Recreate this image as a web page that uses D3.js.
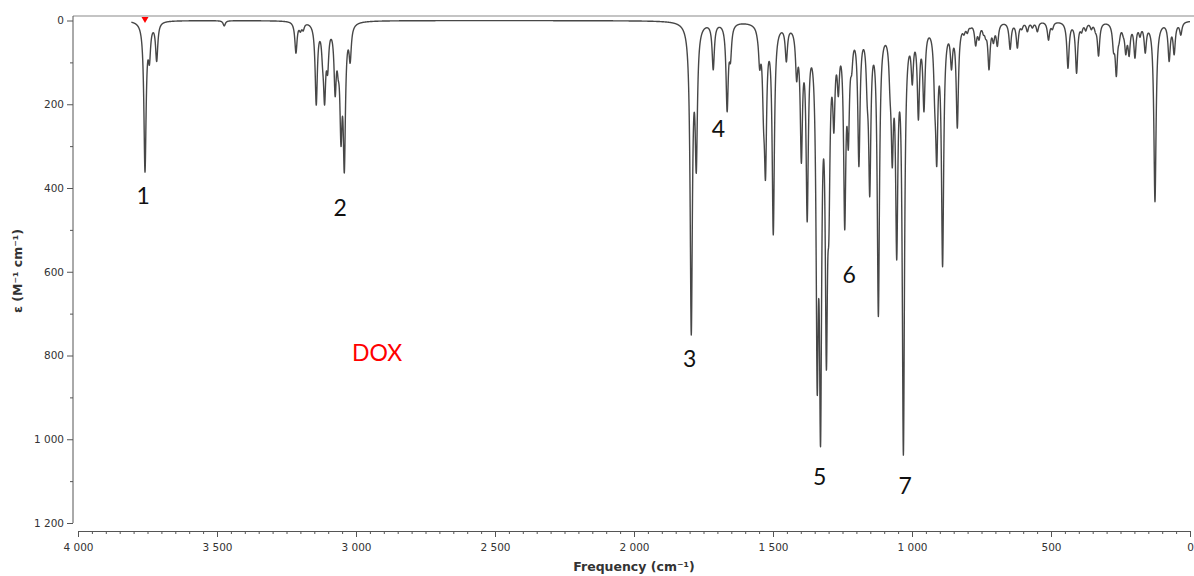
<!DOCTYPE html>
<html><head><meta charset="utf-8">
<script src="https://cdn.jsdelivr.net/npm/d3@7"></script>
<style>body{margin:0;background:#fff}</style>
</head><body><svg id="c" width="1194" height="576"></svg>
<script>
// ---- data: [frequency cm-1, epsilon M-1 cm-1] ----
const peaksOH = [[3759,362],[3743,106],[3717,98],[3474,13]];
const peaksCH = [[3216,78],[3200,28],[3190,25],[3143,202],[3120,118],[3113,202],[3102,130],
  [3075,182],[3064,142],[3054,301],[3042,364],[3021,102]];
const peaksCO = [[1794,751],[1776,365],[1715,118],[1665,218],[1653,102],[1556,47],[1548,118],
  [1534,261],[1527,381],[1499,512]];
const peaksFinger = [[1452,99],[1415,146],[1398,341],[1377,481],[1341,894],[1329,1018],[1308,835],
  [1299,524],[1281,269],[1265,182],[1242,500],[1229,309],[1217,130],[1191,349],[1161,206],[1152,421],
  [1121,707],[1079,190],[1071,352],[1055,572],[1031,1038],[999,154],[977,238],[957,218],
  [918,221],[911,349],[890,588],[858,118],[837,257]];
const peaksLow = [[813,35],[801,31],[789,19],[771,61],[759,47],[743,35],[735,45],[723,118],[707,55],
  [693,62],[647,69],[621,66],[605,22],[585,27],[567,18],[549,27],[509,47],[495,22],[439,114],[408,126],
  [390,30],[375,25],[355,22],[340,30],[329,85],[275,78],[265,134],[255,55],[240,40],[231,82],
  [219,86],[198,90],[180,40],[161,78],[126,433],[75,98],[57,82],[33,35]];
const yTicks = [0,200,400,600,800,1000,1200];
const yMinor = [100,300,500,700,900,1100];
const xTicks = [4000,3500,3000,2500,2000,1500,1000,500,0];
const peakLabels = ["1","2","3","4","5","6","7"];
const labelFreq = [3766,3057,1800,1696,1332,1226,1025];
const labelEps  = [417,445,806,257,1088,605,1109];
const sampleName = "DOX", sampleFreq = 2924, sampleEps = 792;
const markerFreq = 3759;

// ---- chart ----
const svg = d3.select("#c");
const x = d3.scaleLinear().domain([4000,0]).range([78,1190]);
const y = d3.scaleLinear().domain([0,1200]).range([20.5,523]);
const loc = d3.formatLocale({decimal:".",thousands:" ",grouping:[3],currency:["",""]});
const fmt = loc.format(",");

// top frame line and y axis line
svg.append("line").attr("x1",73).attr("x2",1194).attr("y1",16).attr("y2",16)
  .attr("stroke","#b0b0b0").attr("stroke-width",1.5);

const yAx = svg.append("g").attr("transform","translate(73,0)")
  .call(d3.axisLeft(y).tickValues(yTicks).tickSize(6).tickSizeOuter(0).tickFormat(fmt));
const yAxm = svg.append("g").attr("transform","translate(73,0)")
  .call(d3.axisLeft(y).tickValues(yMinor).tickSize(3).tickSizeOuter(0).tickFormat(""));
yAxm.select(".domain").remove();
yAx.select(".domain").attr("d","M0,16V523");

const xAx = svg.append("g").attr("transform","translate(0,531)")
  .call(d3.axisBottom(x).tickValues(xTicks).tickSize(6).tickSizeOuter(0).tickFormat(fmt));
const xAxm = svg.append("g").attr("transform","translate(0,531)")
  .call(d3.axisBottom(x).tickValues(d3.range(0,4001,50)).tickSize(3).tickSizeOuter(0).tickFormat(""));
xAxm.select(".domain").remove();

svg.selectAll(".tick line, .domain").attr("stroke","#555").attr("stroke-width",1);
svg.selectAll(".tick text").attr("font-family","DejaVu Sans").attr("font-size","10.5px").attr("fill","#333");
yAx.selectAll(".tick text").attr("x",-9);
xAx.selectAll(".tick text").attr("y",13);

svg.append("text").attr("x",634).attr("y",571).attr("text-anchor","middle")
  .attr("font-family","DejaVu Sans").attr("font-weight","bold").attr("font-size","12.5px").attr("fill","#333")
  .text("Frequency (cm⁻¹)");
svg.append("text").attr("transform","translate(22,271) rotate(-90)").attr("text-anchor","middle")
  .attr("font-family","DejaVu Sans").attr("font-weight","bold").attr("font-size","12.5px").attr("fill","#333")
  .text("ε (M⁻¹ cm⁻¹)");

// spectrum: Lorentzian broadening of the read peaks
const G = 4.8;
const lor = d => G*G/(G*G + d*d);
const peaks = [].concat(peaksOH,peaksCH,peaksCO,peaksFinger,peaksLow).map(([f,e]) => ({f, t:e, a:e}));
for (let it=0; it<200; it++) {
  const s = peaks.map(p => d3.sum(peaks, q => q.a*lor(p.f-q.f)));
  peaks.forEach((p,i) => { p.a = Math.max(0, p.a + 0.6*(p.t - s[i])); });
}
const freqs = d3.range(3808, -0.001, -0.5);
const spec = freqs.map(f => [f, d3.sum(peaks, p => p.a*lor(f-p.f))]);
svg.append("path").datum(spec)
  .attr("d", d3.line().x(d => x(d[0])).y(d => y(d[1])))
  .attr("fill","none").attr("stroke","#474747").attr("stroke-width",1.4).attr("stroke-linejoin","round");

// red marker
const mx = x(markerFreq);
svg.append("path").attr("d",`M${mx-3.5},17L${mx+3.5},17L${mx},23Z`).attr("fill","#ff0000");

// peak numbers
svg.selectAll(".lab").data(peakLabels).join("text").attr("class","lab")
  .attr("x",(d,i)=>x(labelFreq[i])).attr("y",(d,i)=>y(labelEps[i]))
  .attr("text-anchor","middle").attr("dominant-baseline","central")
  .attr("font-family","Lato").attr("font-size","23px").attr("fill","#111").text(d=>d);
svg.append("text").attr("x",x(sampleFreq)).attr("y",y(sampleEps))
  .attr("text-anchor","middle").attr("dominant-baseline","central")
  .attr("font-family","Lato").attr("font-size","23px").attr("fill","#ff0000").text(sampleName);
</script></body></html>
